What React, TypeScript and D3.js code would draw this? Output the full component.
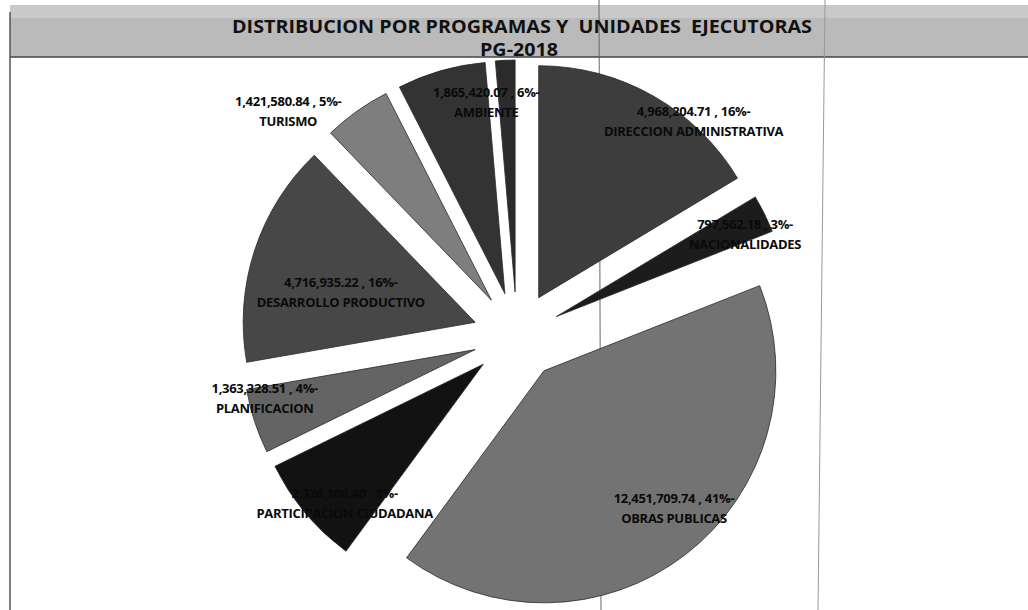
import React, { useEffect, useRef } from 'react';
import * as d3 from 'd3';

// programas (orden de la torta, sentido horario desde las 12)
const programas = [
  'DIRECCION ADMINISTRATIVA',
  'NACIONALIDADES',
  'OBRAS PUBLICAS',
  'PARTICIPACION CIUDADANA',
  'PLANIFICACION',
  'DESARROLLO PRODUCTIVO',
  'TURISMO',
  'AMBIENTE',
  ''
];
const montos = [
  4968204.71, 797562.18, 12451709.74, 2326108.4, 1363328.51, 4716935.22,
  1421580.84, 1865420.07, 412000.0
];
const grises = [
  '#3d3d3d', '#1c1c1c', '#737373', '#121212', '#646464', '#474747',
  '#7e7e7e', '#333333', '#2b2b2b'
];
// desplazamiento de cada etiqueta respecto a su punto por defecto
const labelNudge = [
  [75, -35], [43, -11], [31, 9], [-14, 35], [-56, -2], [20, 20],
  [-109, -57], [26, -36], [0, 0]
];

const titulo = 'DISTRIBUCION POR PROGRAMAS Y  UNIDADES  EJECUTORAS';
const subtitulo = 'PG-2018';

const W = 1028;
const H = 610;
const FONT = '"Open Sans", Lato, sans-serif';

const App = () => {
  const container = useRef(null);

  useEffect(() => {
    const svg = d3
      .select(container.current)
      .selectAll('svg')
      .data([0])
      .join('svg')
      .attr('width', W)
      .attr('height', H)
      .style('position', 'absolute')
      .style('left', 0)
      .style('top', 0)
      .style('background', '#fff');

    svg.selectAll('*').remove();

    // marco / cabecera tipo hoja de calculo
    svg.append('rect')
      .attr('x', 10).attr('y', 5).attr('width', W - 10).attr('height', 52)
      .attr('fill', '#bababa');
    svg.append('rect')
      .attr('x', 10).attr('y', 5).attr('width', W - 10).attr('height', 13)
      .attr('fill', '#c9c9c9');
    svg.append('line')
      .attr('x1', 10).attr('x2', W).attr('y1', 57).attr('y2', 57)
      .attr('stroke', '#444').attr('stroke-width', 1.5);
    svg.append('line')
      .attr('x1', 10).attr('x2', 10).attr('y1', 12).attr('y2', H)
      .attr('stroke', '#555').attr('stroke-width', 1.5);
    svg.append('line')
      .attr('x1', 599).attr('x2', 601).attr('y1', 0).attr('y2', H)
      .attr('stroke', '#666').attr('stroke-width', 1);
    svg.append('line')
      .attr('x1', 825).attr('x2', 818).attr('y1', 0).attr('y2', H)
      .attr('stroke', '#999').attr('stroke-width', 1);

    svg.append('text')
      .attr('x', 522).attr('y', 33)
      .attr('text-anchor', 'middle')
      .attr('font-family', FONT)
      .attr('font-weight', 'bold')
      .attr('font-size', 18)
      .attr('textLength', 580)
      .attr('lengthAdjust', 'spacingAndGlyphs')
      .attr('fill', '#111')
      .style('white-space', 'pre')
      .text(titulo);
    svg.append('text')
      .attr('x', 519).attr('y', 56)
      .attr('text-anchor', 'middle')
      .attr('font-family', FONT)
      .attr('font-weight', 'bold')
      .attr('font-size', 18)
      .attr('textLength', 78)
      .attr('lengthAdjust', 'spacingAndGlyphs')
      .attr('fill', '#111')
      .text(subtitulo);

    // torta explotada
    const cx = 517;
    const cy = 336;
    const R = 232;
    const explode = 44;

    const total = d3.sum(montos);
    const pie = d3.pie<number>().sort(null).value(d => d);
    const arcs = pie(montos);
    const arc = d3.arc<d3.PieArcDatum<number>>().innerRadius(0).outerRadius(R);

    const dir = a => [Math.sin(a), -Math.cos(a)];

    const plotg = svg.append('g').attr('transform', `translate(${cx},${cy})`);

    plotg
      .selectAll('.slice')
      .data(arcs)
      .join('path')
      .attr('class', 'slice')
      .attr('d', d => arc(d))
      .attr('transform', d => {
        const [ux, uy] = dir((d.startAngle + d.endAngle) / 2);
        return `translate(${ux * explode},${uy * explode})`;
      })
      .attr('fill', (d, i) => grises[i])
      .attr('stroke', '#2a2a2a')
      .attr('stroke-width', 0.8);

    const fmtNum = d3.format(',.2f');
    const labelg = plotg.append('g');
    arcs.forEach((d, i) => {
      if (!programas[i]) return;
      const [ux, uy] = dir((d.startAngle + d.endAngle) / 2);
      const r = explode + R * 0.7;
      const x = ux * r + labelNudge[i][0];
      const y = uy * r + labelNudge[i][1];
      const pct = Math.round((montos[i] / total) * 100);
      const t = labelg.append('text')
        .attr('text-anchor', 'middle')
        .attr('font-family', FONT)
        .attr('font-weight', 'bold')
        .attr('font-size', 13)
        .attr('letter-spacing', -0.3)
        .attr('fill', '#0a0a0a');
      t.append('tspan').attr('x', x).attr('y', y - 5)
        .text(`${fmtNum(montos[i])} , ${pct}%-`);
      t.append('tspan').attr('x', x).attr('y', y + 15)
        .text(programas[i]);
    });
  }, []);

  return <div className="pie-container" ref={container}></div>;
};

export default App;
